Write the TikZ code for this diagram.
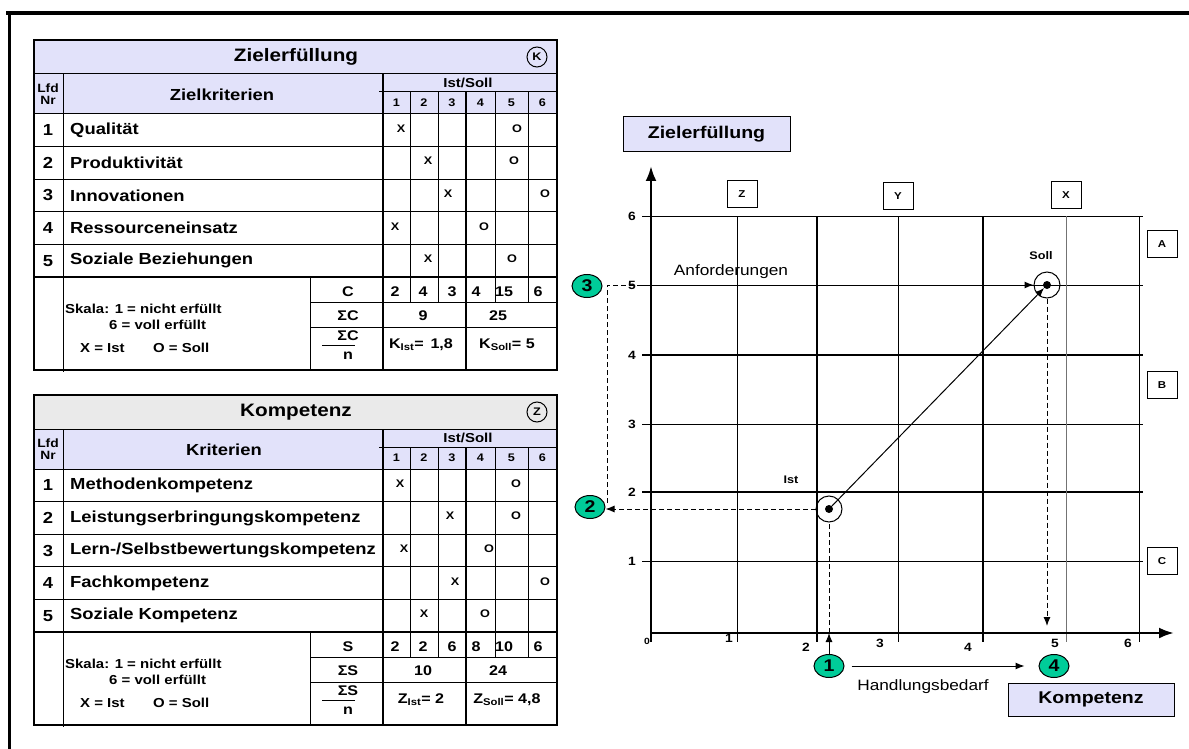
\documentclass[tikz,border=0pt]{standalone}
\usepackage{fontspec}
\setmainfont{Liberation Sans}[FakeStretch=1.15]
\usetikzlibrary{arrows.meta,shapes.geometric}
\definecolor{lav}{RGB}{226,226,250}
\definecolor{titlegray}{RGB}{234,234,234}
\definecolor{mint}{RGB}{0,204,153}
\newcommand\tsz[1]{\fontsize{#1}{#1}\selectfont}

% grid of one evaluation table (title bar, header, five rows, summary)
\newcommand\tablegrid[1]{%
  \fill[#1] (34,40) rectangle (557,74);
  \fill[lav] (34,74) rectangle (557,114);
  \draw[tline] (34,74) -- (557,74);
  \draw[tline] (34,114) -- (557,114);
  \foreach \yy in {146.6,179.2,211.8,244.4} \draw[tline] (34,\yy) -- (557,\yy);
  \draw[tline] (379,92) -- (557,92);
  \foreach \xx in {410,438,495,528} \draw[tline] (\xx,92) -- (\xx,302);
  \draw[tline] (63,74) -- (63,372);
  \draw[tline] (310,277) -- (310,370);
  \draw[tline] (310,302) -- (557,302);
  \draw[tline] (310,327) -- (557,327);
  \draw[bline] (383,74) -- (383,370);
  \draw[bline] (466,92) -- (466,370);
  \draw[bline] (34,277) -- (557,277);
  \draw[line width=2pt] (34,40) rectangle (557,370);
}

\begin{document}
\begin{tikzpicture}[x=1pt,y=-1pt,
  tline/.style={line width=1pt},
  bline/.style={line width=2.6pt},
  gline/.style={line width=2.8pt},
  ttl/.style={inner sep=0pt, font=\bfseries\tsz{18}},
  rowtxt/.style={inner sep=0pt, font=\bfseries\tsz{16}},
  xomark/.style={inner sep=0pt, font=\bfseries\tsz{11}},
  colno/.style={inner sep=0pt, font=\bfseries\tsz{11}},
  sumtxt/.style={inner sep=0pt, font=\bfseries\tsz{13}},
  valtxt/.style={inner sep=0pt, font=\bfseries\tsz{14}},
  ring/.style={circle, draw, line width=1pt, minimum size=20pt, inner sep=0pt, font=\bfseries\tsz{11}},
  cbox/.style={draw, line width=0.9pt, minimum width=30pt, minimum height=27pt, inner sep=0pt, font=\bfseries\tsz{10}},
  axlbl/.style={inner sep=0pt, font=\bfseries\tsz{12}},
  numdisc/.style={ellipse, draw, fill=mint, line width=1pt, minimum width=30pt, minimum height=23pt, inner sep=0pt, font=\bfseries\tsz{17}},
  hbox/.style={draw, fill=lav, line width=1pt, inner sep=0pt, font=\bfseries\tsz{17}},
  plain/.style={inner sep=0pt, font=\tsz{15}},
  dsh/.style={line width=1pt, dash pattern=on 5pt off 3pt},
  arr/.style={-{Latex[length=9pt,width=7pt]}},
  axarr/.style={line width=2.6pt, -{Latex[length=15pt,width=11pt]}},
]
\useasboundingbox (0,0) rectangle (1189,749);

% outer frame
\draw[line width=4pt] (6,13) -- (1189,13);
\draw[line width=3pt] (9,13) -- (9,749);

% ---------- table 1: Zielerfuellung ----------
\tablegrid{lav}
\node[ttl] (a-title) at (296,57) {Zielerfüllung};
\node[ring] (a-ring) at (537,57) {K};
\node[inner sep=0pt, align=center, font=\bfseries\tsz{12}] (a-lfd) at (48,94) {Lfd\\Nr};
\node[rowtxt] (a-head) at (222,95) {Zielkriterien};
\node[inner sep=0pt, font=\bfseries\tsz{13}] (a-is) at (468,83) {Ist/Soll};
\foreach \i/\xx in {1/396.5,2/424,3/452,4/480.5,5/511.5,6/542.5}
  \node[colno] (a-c\i) at (\xx,103) {\i};
\foreach \i/\t/\xa/\xb in {1/Qualität/401/517,2/Produktivität/428/514,3/Innovationen/448/545,4/Ressourceneinsatz/395/484,5/Soziale Beziehungen/428/512}{
  \node[rowtxt] (a-n\i) at (48,97.7+32.6*\i) {\i};
  \node[rowtxt, anchor=west] (a-t\i) at (70,97.7+32.6*\i) {\t};
  \node[xomark] (a-x\i) at (\xa,96+32.6*\i) {X};
  \node[xomark] (a-o\i) at (\xb,96+32.6*\i) {O};
}
\node[sumtxt, anchor=west] (a-sk1) at (65,309) {Skala: 1 = nicht erfüllt};
\node[sumtxt, anchor=west] (a-sk2) at (109,325) {6 = voll erfüllt};
\node[sumtxt, anchor=west] (a-sk3) at (80,348) {X = Ist};
\node[sumtxt, anchor=west] (a-sk4) at (153,348) {O = Soll};
\node[valtxt] (a-lc) at (348,292) {C};
\node[valtxt] (a-lsc) at (348,316) {ΣC};
\node[valtxt] (a-fn) at (348,336) {ΣC};
\node[valtxt] (a-fd) at (348,356) {n};
\draw[tline] (322,345) -- (355,345);
\foreach \i/\v/\xx in {1/2/395,2/4/423,3/3/452,4/4/476,5/15/504,6/6/538}
  \node[valtxt] (a-v\i) at (\xx,292) {\v};
\node[valtxt] (a-s1) at (423,316) {9};
\node[valtxt] (a-s2) at (498,316) {25};
\node[valtxt] (a-m1) at (421,345) {K\textsubscript{Ist}= \,1,8};
\node[valtxt] (a-m2) at (507,345) {K\textsubscript{Soll}= 5};

% ---------- table 2: Kompetenz ----------
\begin{scope}[yshift=-355pt]
\tablegrid{titlegray}
\node[ttl] (b-title) at (296,57) {Kompetenz};
\node[ring] (b-ring) at (537,57) {Z};
\node[inner sep=0pt, align=center, font=\bfseries\tsz{12}] (b-lfd) at (48,94) {Lfd\\Nr};
\node[rowtxt] (b-head) at (224,95) {Kriterien};
\node[inner sep=0pt, font=\bfseries\tsz{13}] (b-is) at (468,83) {Ist/Soll};
\foreach \i/\xx in {1/396.5,2/424,3/452,4/480.5,5/511.5,6/542.5}
  \node[colno] (b-c\i) at (\xx,103) {\i};
\foreach \i/\t/\xa/\xb in {1/Methodenkompetenz/400/516,2/Leistungserbringungskompetenz/450/516,3/{Lern-/Selbstbewertungskompetenz}/404/489,4/Fachkompetenz/455/545,5/Soziale Kompetenz/424/485}{
  \node[rowtxt] (b-n\i) at (48,97.7+32.6*\i) {\i};
  \node[rowtxt, anchor=west] (b-t\i) at (70,97.7+32.6*\i) {\t};
  \node[xomark] (b-x\i) at (\xa,96+32.6*\i) {X};
  \node[xomark] (b-o\i) at (\xb,96+32.6*\i) {O};
}
\node[sumtxt, anchor=west] (b-sk1) at (65,309) {Skala: 1 = nicht erfüllt};
\node[sumtxt, anchor=west] (b-sk2) at (109,325) {6 = voll erfüllt};
\node[sumtxt, anchor=west] (b-sk3) at (80,348) {X = Ist};
\node[sumtxt, anchor=west] (b-sk4) at (153,348) {O = Soll};
\node[valtxt] (b-lc) at (348,292) {S};
\node[valtxt] (b-lsc) at (348,316) {ΣS};
\node[valtxt] (b-fn) at (348,336) {ΣS};
\node[valtxt] (b-fd) at (348,356) {n};
\draw[tline] (322,345) -- (355,345);
\foreach \i/\v/\xx in {1/2/395,2/2/423,3/6/452,4/8/476,5/10/504,6/6/538}
  \node[valtxt] (b-v\i) at (\xx,292) {\v};
\node[valtxt] (b-s1) at (423,316) {10};
\node[valtxt] (b-s2) at (498,316) {24};
\node[valtxt] (b-m1) at (421,345) {Z\textsubscript{Ist}= 2};
\node[valtxt] (b-m2) at (507,345) {Z\textsubscript{Soll}= 4,8};
\end{scope}

% ---------- portfolio chart ----------
% grid
\foreach \yy in {216,285,424,561} \draw[tline] (642,\yy) -- (1143,\yy);
\foreach \yy in {355,492} \draw[gline] (642,\yy) -- (1143,\yy);
\foreach \xx in {737,898,1139} \draw[tline] (\xx,216) -- (\xx,642);
\draw[tline, black!55] (1066,216) -- (1066,642);
\foreach \xx in {817,983} \draw[gline] (\xx,216) -- (\xx,642);
% axes
\draw[axarr] (651,642) -- (651,166);
\draw[axarr] (651,633) -- (1174,633);
% axis labels
\foreach \v/\yy in {6/216,5/285,4/355,3/424,2/492,1/561}
  \node[axlbl] (yl\v) at (632,\yy) {\v};
\node[inner sep=0pt, font=\bfseries\tsz{9}] (xl0) at (647,641) {0};
\foreach \v/\xx/\yy in {1/729/638,2/806/647,3/880/643,4/968/647,5/1055/643,6/1128/643}
  \node[axlbl] (xl\v) at (\xx,\yy) {\v};
% field letters
\node[cbox] (fz) at (742,194) {Z};
\node[cbox] (fy) at (898,196) {Y};
\node[cbox] (fx) at (1066,195) {X};
\node[cbox] (fa) at (1162,244) {A};
\node[cbox] (fb) at (1162,385) {B};
\node[cbox] (fc) at (1162,561) {C};
% axis titles
\node[hbox, minimum width=167pt, minimum height=35pt] (ytitle) at (706.5,134.5) {Zielerfüllung};
\node[hbox, minimum width=166pt, minimum height=33pt] (xtitle) at (1091,699.5) {Kompetenz};
% actual and target positions
\node[circle, draw, line width=1pt, minimum size=26pt, inner sep=0pt] (istring) at (829,509) {};
\node[circle, fill, minimum size=8pt, inner sep=0pt] (istdot) at (829,509) {};
\node[circle, draw, line width=1pt, minimum size=26pt, inner sep=0pt] (sollring) at (1047,285) {};
\node[circle, fill, minimum size=8pt, inner sep=0pt] (solldot) at (1047,285) {};
\node[inner sep=0pt, font=\bfseries\tsz{11}] (istlbl) at (791,480) {Ist};
\node[inner sep=0pt, font=\bfseries\tsz{11}] (solllbl) at (1041,256) {Soll};
\draw[line width=1pt, arr] (istdot) -- (solldot);
% numbered steps
\node[numdisc] (n1) at (829,666) {1};
\node[numdisc] (n2) at (590,507) {2};
\node[numdisc] (n3) at (587,286) {3};
\node[numdisc] (n4) at (1054,666) {4};
\coordinate (ax1) at (829,633);
\coordinate (up2) at (607,503);
\coordinate (ax4) at (1051,626);
\draw[line width=1pt, arr] (n1.north) -- (ax1);
\draw[dsh] (ax1) -- (istring.south);
\draw[dsh, arr] (istring.west) -- (istring.west -| n2.east);
\draw[dsh, arr] (up2) |- (sollring.west);
\draw[dsh, arr] (sollring.south) -- (sollring.south |- ax4);
\draw[line width=1pt, arr] ([xshift=7pt]n1.east) -- ([xshift=-14pt]n4.west);
\node[plain] (anf) at (731,272) {Anforderungen};
\node[plain] (hand) at (923,687) {Handlungsbedarf};
\end{tikzpicture}
\end{document}
